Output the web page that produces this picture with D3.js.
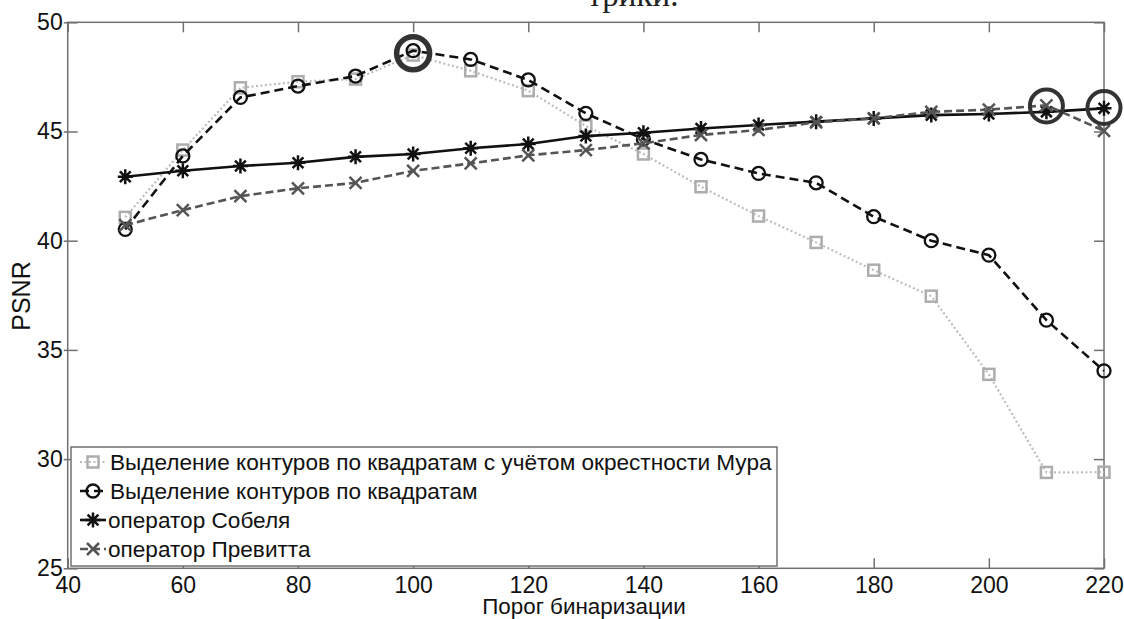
<!DOCTYPE html>
<html><head><meta charset="utf-8">
<script src="https://cdn.jsdelivr.net/npm/d3@7"></script>
<style>html,body{margin:0;padding:0;background:#fff;}svg{display:block;}</style>
</head><body>
<svg id="c" width="1124" height="619"></svg>
<script>
const thresholds = [50,60,70,80,90,100,110,120,130,140,150,160,170,180,190,200,210,220];
const mooreVals  = [41.07,44.15,47.0,47.28,47.4,48.5,47.78,46.87,45.25,43.97,42.47,41.13,39.92,38.65,37.46,33.88,29.39,29.4];
const squareVals = [40.52,43.88,46.56,47.08,47.54,48.7,48.3,47.36,45.83,44.65,43.72,43.08,42.65,41.1,40.0,39.34,36.36,34.04];
const sobelVals  = [42.93,43.2,43.42,43.57,43.84,43.97,44.23,44.43,44.79,44.94,45.14,45.3,45.45,45.6,45.75,45.8,45.9,46.06];
const prewittVals= [40.71,41.4,42.04,42.4,42.65,43.2,43.54,43.91,44.15,44.46,44.84,45.07,45.42,45.6,45.9,46.0,46.2,45.03];
const seriesNames = ["Выделение контуров по квадратам с учётом окрестности Мура","Выделение контуров по квадратам","оператор Собеля","оператор Превитта"];
const xTicks = [40,60,80,100,120,140,160,180,200,220];
const yTicks = [25,30,35,40,45,50];
const highlightX = [100,210,220];
const highlightY = [48.58,46.17,46.1];
const xLabel = "Порог бинаризации";
const yLabel = "PSNR";
const topText = "трики.";

const svg = d3.select("#c");
const L=67.7, R=1104, T=22.3, B=568.3;
const x = d3.scaleLinear().domain([40,220]).range([L,R]);
const y = d3.scaleLinear().domain([25,50]).range([B,T]);
const axisColor="#707070";
const font="'Liberation Sans', Arial, sans-serif";

// top cut-off text
svg.append("text").attr("x",633).attr("y",6).attr("text-anchor","middle")
  .attr("font-family","'Liberation Serif','Times New Roman',serif").attr("font-size",33).attr("fill","#222").text(topText);

// box
svg.append("rect").attr("x",L).attr("y",T).attr("width",R-L).attr("height",B-T)
  .attr("fill","none").attr("stroke",axisColor).attr("stroke-width",1.5);

// axes
const gx = svg.append("g").attr("transform",`translate(0,${B})`)
  .call(d3.axisBottom(x).tickValues(xTicks).tickSize(-10).tickPadding(8).tickFormat(d3.format("d")));
const gxt = svg.append("g").attr("transform",`translate(0,${T})`)
  .call(d3.axisTop(x).tickValues(xTicks).tickSize(-10).tickFormat(""));
const gy = svg.append("g").attr("transform",`translate(${L},0)`)
  .call(d3.axisLeft(y).tickValues(yTicks).tickSize(-10).tickPadding(5).tickFormat(d3.format("d")));
const gyr = svg.append("g").attr("transform",`translate(${R},0)`)
  .call(d3.axisRight(y).tickValues(yTicks).tickSize(-10).tickFormat(""));
[gx,gxt,gy,gyr].forEach(g=>{
  g.select(".domain").remove();
  g.selectAll(".tick line").attr("stroke",axisColor).attr("stroke-width",1.5);
  g.selectAll("text").attr("font-family",font).attr("font-size",23).attr("fill","#111");
});
gy.selectAll(".tick line").attr("x1",-4);

svg.append("text").attr("x",584).attr("y",614).attr("text-anchor","middle")
  .attr("font-family",font).attr("font-size",22.4).attr("fill","#111").text(xLabel);
svg.append("text").attr("transform","translate(30,296) rotate(-90)").attr("text-anchor","middle")
  .attr("font-family",font).attr("font-size",25).attr("fill","#111").text(yLabel);

const styles = [
  {vals:mooreVals, color:"#bdbdbd", mcolor:"#adadad", dash:"2,2.5", w:2.2, marker:"square"},
  {vals:squareVals, color:"#111", mcolor:"#111", dash:"9,5", w:2.6, marker:"circle"},
  {vals:sobelVals, color:"#111", mcolor:"#111", dash:null, w:2.6, marker:"star"},
  {vals:prewittVals, color:"#555", mcolor:"#555", dash:"8,4", w:2.6, marker:"x"}
];

function drawMarker(g, type, cx, cy, color){
  if(type==="square"){
    g.append("rect").attr("x",cx-5.5).attr("y",cy-5.5).attr("width",11).attr("height",11)
      .attr("fill","none").attr("stroke",color).attr("stroke-width",2.5);
  } else if(type==="circle"){
    g.append("circle").attr("cx",cx).attr("cy",cy).attr("r",6.5)
      .attr("fill","none").attr("stroke",color).attr("stroke-width",2.3);
  } else if(type==="star"){
    const r=7.5, d=r*0.72;
    g.append("path").attr("d",`M${cx-r},${cy}L${cx+r},${cy}M${cx},${cy-r}L${cx},${cy+r}M${cx-d},${cy-d}L${cx+d},${cy+d}M${cx-d},${cy+d}L${cx+d},${cy-d}`)
      .attr("stroke",color).attr("stroke-width",2.5).attr("fill","none");
  } else if(type==="x"){
    const r=6;
    g.append("path").attr("d",`M${cx-r},${cy-r}L${cx+r},${cy+r}M${cx-r},${cy+r}L${cx+r},${cy-r}`)
      .attr("stroke",color).attr("stroke-width",2.5).attr("fill","none");
  }
}

const line = d3.line().x((d,i)=>x(thresholds[i])).y(d=>y(d));
styles.forEach(s=>{
  const g = svg.append("g");
  g.append("path").attr("d",line(s.vals)).attr("fill","none").attr("stroke",s.color)
    .attr("stroke-width",s.w).attr("stroke-dasharray",s.dash);
  s.vals.forEach((v,i)=>drawMarker(g,s.marker,x(thresholds[i]),y(v),s.mcolor));
});

// highlight rings
highlightX.forEach((hx,i)=>{
  svg.append("circle").attr("cx",x(hx)).attr("cy",y(highlightY[i])).attr("r",16.5)
    .attr("fill","none").attr("stroke","#333").attr("stroke-width",i===0?5.5:4);
});

// legend
const lg = svg.append("g");
lg.append("rect").attr("x",71).attr("y",447).attr("width",706).attr("height",119)
  .attr("fill","#fff").attr("stroke",axisColor).attr("stroke-width",1.5);
styles.forEach((s,i)=>{
  const cy = 462 + i*29;
  lg.append("line").attr("x1",80).attr("x2",106).attr("y1",cy).attr("y2",cy)
    .attr("stroke",s.color).attr("stroke-width",s.w).attr("stroke-dasharray",s.dash);
  drawMarker(lg,s.marker,93,cy,s.mcolor);
  lg.append("text").attr("x",i<2?110:108).attr("y",cy).attr("dy","0.35em")
    .attr("font-family",font).attr("font-size",22.6).attr("fill","#111").text(seriesNames[i]);
});
</script>
</body></html>
